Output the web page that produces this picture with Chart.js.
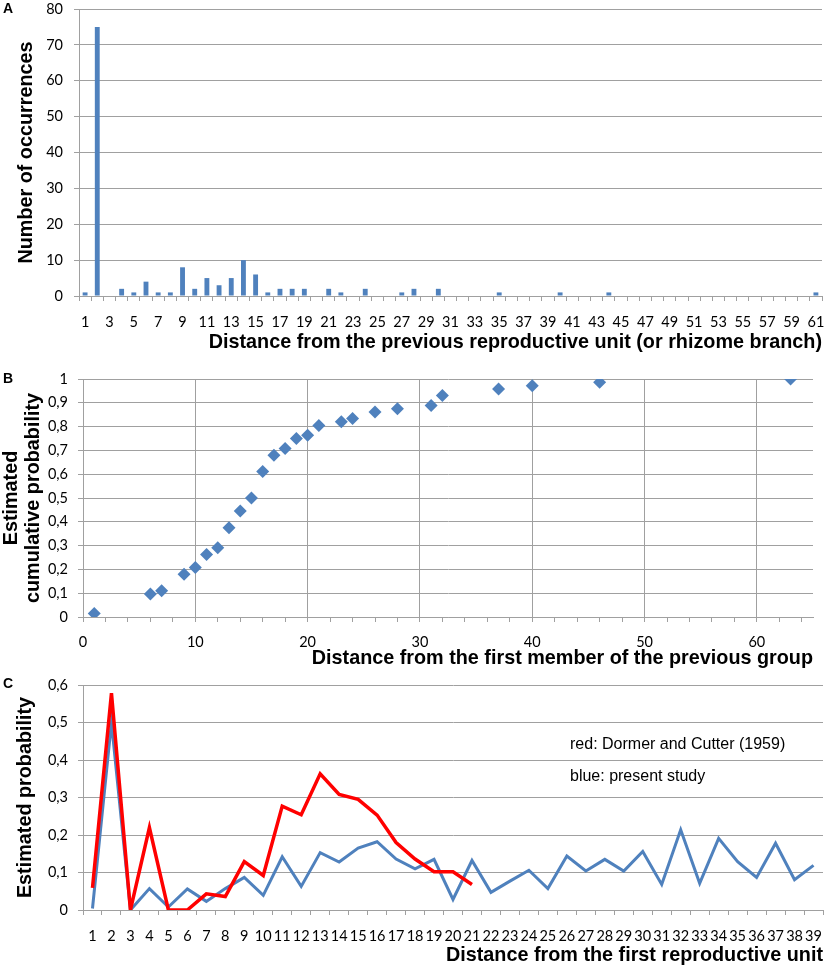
<!DOCTYPE html>
<html>
<head>
<meta charset="utf-8">
<script src="https://cdn.jsdelivr.net/npm/chart.js@4.4.1/dist/chart.umd.min.js"></script>
<style>
  body { margin: 0; background: #fff; }
  #wrap { position: relative; width: 825px; height: 967px; overflow: hidden; }
  canvas { position: absolute; left: 0; }
  .panel { position: absolute; left: 3px; font: bold 14px "Liberation Sans", Arial, sans-serif; line-height: 14px; }
  .note { position: absolute; left: 570px; font: 16px "Liberation Sans", Arial, sans-serif; line-height: 16px; white-space: nowrap; }
</style>
</head>
<body>
<div id="wrap">
  <canvas id="chartA" width="825" height="355" style="top:0px"></canvas>
  <canvas id="chartB" width="825" height="315" style="top:355px"></canvas>
  <canvas id="chartC" width="825" height="297" style="top:670px"></canvas>
  <div class="panel" style="top:1px">A</div>
  <div class="panel" style="top:371px">B</div>
  <div class="panel" style="top:676px">C</div>
  <div class="note" style="top:736px">red: Dormer and Cutter (1959)</div>
  <div class="note" style="top:768px">blue: present study</div>
</div>
<script>
// panel A: occurrences per distance
const distanceLabels = [1,2,3,4,5,6,7,8,9,10,11,12,13,14,15,16,17,18,19,20,
  21,22,23,24,25,26,27,28,29,30,31,32,33,34,35,36,37,38,39,40,
  41,42,43,44,45,46,47,48,49,50,51,52,53,54,55,56,57,58,59,60,61];
const occurrences = [1,75,0,2,1,4,1,1,8,2,5,3,5,10,6,1,2,2,2,0,
  2,1,0,2,0,0,1,2,0,2,0,0,0,0,1,0,0,0,0,1,
  0,0,0,1,0,0,0,0,0,0,0,0,0,0,0,0,0,0,0,0,1];

// panel B: cumulative probability
const cumDistance = [1,6,7,9,10,11,12,13,14,15,16,17,18,19,20,21,23,24,26,28,31,32,37,40,46,63];
const cumProb = [0.015,0.097,0.11,0.18,0.208,0.263,0.291,0.375,0.445,0.5,0.611,0.68,0.708,0.75,0.764,
  0.805,0.82,0.834,0.861,0.875,0.889,0.931,0.958,0.972,0.986,1.0];

// panel C: probability by distance from first unit
const unitLabels = [1,2,3,4,5,6,7,8,9,10,11,12,13,14,15,16,17,18,19,20,
  21,22,23,24,25,26,27,28,29,30,31,32,33,34,35,36,37,38,39];
const dormerCutter = [0.059,0.578,0,0.22,0,0,0.043,0.036,0.129,0.092,0.277,0.254,0.363,0.308,0.295,
  0.253,0.18,0.136,0.102,0.102,0.068];
const presentStudy = [0.004,0.5,0,0.057,0.008,0.056,0.023,0.057,0.087,0.039,0.142,0.063,0.153,0.128,0.165,
  0.182,0.136,0.11,0.135,0.028,0.132,0.047,0.077,0.106,0.057,0.144,0.104,0.135,0.104,0.156,
  0.068,0.214,0.071,0.191,0.129,0.087,0.178,0.081,0.119];

const BLUE = '#4F81BD';
const RED = '#FF0000';
const GRID = '#A0A0A0';
const tickFont = { family: 'Lato', size: 14.5 };
const titleFont = { family: 'Liberation Sans', size: 19.8, weight: 'bold' };

const comma = v => String(Math.round(v * 10) / 10).replace('.', ',');

// pin the plot area: fixed axis sizes, no extra room for label overflow
function fixY(w) {
  return s => { s.width = w; s.paddingTop = 0; s.paddingBottom = 0; };
}
function fixX(h) {
  return s => { s.height = h; s.paddingLeft = 0; s.paddingRight = 0; };
}

Chart.defaults.animation = false;
Chart.defaults.color = '#000';
Chart.defaults.plugins.legend.display = false;
Chart.defaults.plugins.tooltip.enabled = false;

new Chart(document.getElementById('chartA'), {
  type: 'bar',
  data: {
    labels: distanceLabels,
    datasets: [{
      data: occurrences,
      backgroundColor: BLUE,
      barPercentage: 0.4,
      categoryPercentage: 1
    }]
  },
  options: {
    responsive: false,
    layout: { padding: { top: 9, right: 3, left: 0, bottom: 0 } },
    scales: {
      x: {
        grid: { offset: true, drawOnChartArea: false, tickLength: 5, tickColor: GRID },
        border: { color: GRID },
        ticks: {
          font: tickFont, autoSkip: false, maxRotation: 0, padding: 13,
          callback: function (v, i) { return i % 2 === 0 ? this.getLabelForValue(v) : ''; }
        },
        title: {
          display: true, text: 'Distance from the previous reproductive unit (or rhizome branch)',
          align: 'end', font: titleFont, padding: { top: 0, bottom: 1 }
        },
        afterFit: fixX(59)
      },
      y: {
        min: 0, max: 80,
        grid: { color: GRID, tickLength: 5 },
        border: { color: GRID },
        ticks: { font: tickFont, stepSize: 10, padding: 11 },
        title: {
          display: true, text: 'Number of occurrences',
          font: titleFont, padding: { top: 15, bottom: 0 }
        },
        afterFit: fixY(79)
      }
    }
  }
});

new Chart(document.getElementById('chartB'), {
  type: 'scatter',
  data: {
    datasets: [{
      data: cumDistance.map((d, i) => ({ x: d, y: cumProb[i] })),
      pointStyle: 'rectRot',
      pointRadius: 6.5,
      backgroundColor: BLUE,
      borderWidth: 0
    }]
  },
  options: {
    responsive: false,
    layout: { padding: { top: 24, right: 12, left: 0, bottom: 0 } },
    scales: {
      x: {
        type: 'linear', min: 0, max: 65,
        grid: {
          color: c => (c.tick && c.tick.value % 10 === 0) ? GRID : 'transparent',
          tickColor: GRID, tickLength: 5
        },
        border: { color: GRID },
        ticks: {
          font: tickFont, stepSize: 2, includeBounds: false, autoSkip: false, maxRotation: 0, padding: 12,
          callback: v => (v % 10 === 0 ? v : '')
        },
        title: {
          display: true, text: 'Distance from the first member of the previous group',
          align: 'end', font: titleFont, padding: { top: 0, bottom: 0 }
        },
        afterFit: fixX(53)
      },
      y: {
        min: 0, max: 1,
        grid: { color: GRID, tickLength: 5 },
        border: { color: GRID },
        ticks: { font: tickFont, stepSize: 0.1, padding: 10, callback: comma },
        title: {
          display: true, text: ['Estimated', 'cumulative probability'],
          font: { family: 'Liberation Sans', size: 19.8, weight: 'bold', lineHeight: 1.12 },
          padding: { top: 0, bottom: 0 }
        },
        afterFit: fixY(83)
      }
    }
  }
});

new Chart(document.getElementById('chartC'), {
  type: 'line',
  data: {
    labels: unitLabels,
    datasets: [
      { data: dormerCutter, borderColor: RED, borderWidth: 3.5, pointRadius: 0, tension: 0, order: 1 },
      { data: presentStudy, borderColor: BLUE, borderWidth: 3, pointRadius: 0, tension: 0, order: 2 }
    ]
  },
  options: {
    responsive: false,
    layout: { padding: { top: 15, right: 2, left: 0, bottom: 0 } },
    scales: {
      x: {
        offset: true,
        grid: { offset: true, drawOnChartArea: false, tickLength: 5, tickColor: GRID },
        border: { color: GRID },
        ticks: { font: tickFont, autoSkip: false, maxRotation: 0, padding: 13 },
        title: {
          display: true, text: 'Distance from the first reproductive unit',
          align: 'end', font: titleFont, padding: { top: 0, bottom: 0 }
        },
        afterFit: fixX(57)
      },
      y: {
        min: 0, max: 0.6,
        grid: { color: GRID, tickLength: 5 },
        border: { color: GRID },
        ticks: { font: tickFont, stepSize: 0.1, padding: 10, callback: comma },
        title: {
          display: true, text: 'Estimated probability',
          font: titleFont, padding: { top: 14, bottom: 0 }
        },
        afterFit: fixY(83)
      }
    }
  }
});
</script>
</body>
</html>
